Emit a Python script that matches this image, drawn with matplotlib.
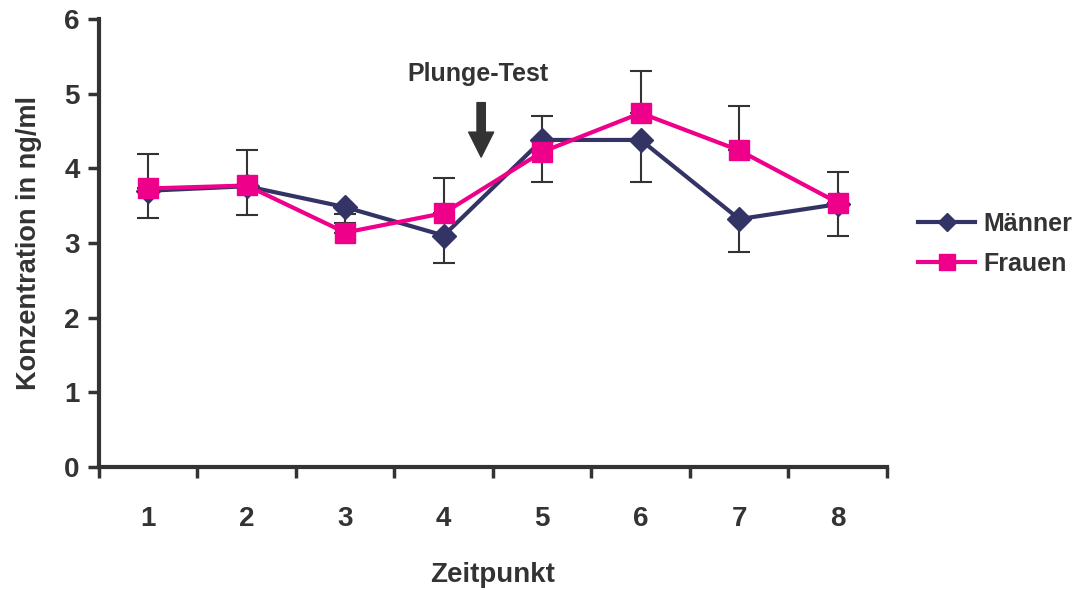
import matplotlib
matplotlib.use('Agg')
import matplotlib.pyplot as plt
import numpy as np

plt.rcParams['font.family'] = ['Liberation Sans', 'DejaVu Sans']
plt.rcParams['font.weight'] = 'bold'

zeitpunkt = [1, 2, 3, 4, 5, 6, 7, 8]
maenner = [3.70, 3.76, 3.48, 3.10, 4.38, 4.38, 3.32, 3.52]
frauen = [3.73, 3.77, 3.14, 3.40, 4.22, 4.74, 4.24, 3.54]
# Männer shows only the lower whisker, Frauen only the upper one
maenner_err_low = [0.36, 0.39, 0.21, 0.37, 0.56, 0.56, 0.44, 0.42]
frauen_err_up = [0.46, 0.48, 0.25, 0.47, 0.48, 0.57, 0.60, 0.41]

dark = '#333333'
navy = '#333366'
pink = '#EE008A'

fig = plt.figure(figsize=(10.85, 5.9), dpi=100)
ax = fig.add_axes([0.0912, 0.2085, 0.7263, 0.7593])

zero = [0] * len(zeitpunkt)
ax.errorbar(zeitpunkt, maenner, yerr=[maenner_err_low, zero], fmt='none',
            ecolor=dark, elinewidth=1.5, capsize=8, capthick=1.5, zorder=2)
ax.errorbar(zeitpunkt, frauen, yerr=[zero, frauen_err_up], fmt='none',
            ecolor=dark, elinewidth=1.5, capsize=8, capthick=1.5, zorder=2)

l1, = ax.plot(zeitpunkt, maenner, color=navy, lw=3, marker='D', ms=12.5,
              label='Männer', zorder=3)
l2, = ax.plot(zeitpunkt, frauen, color=pink, lw=3, marker='s', ms=14.5,
              label='Frauen', zorder=4)

ax.set_xlim(0.5, 8.5)
ax.set_ylim(0, 6)
ax.set_yticks(range(0, 7))
ax.set_xticks(zeitpunkt)
ax.set_xticks(np.arange(0.5, 9, 1), minor=True)
ax.tick_params(axis='x', which='major', length=0, pad=28, labelsize=20,
               colors=dark)
ax.tick_params(axis='x', which='minor', length=8, width=2.5, color=dark)
ax.tick_params(axis='y', length=8, width=2.5, color=dark, labelsize=20,
               labelcolor=dark, pad=6)

for s in ['top', 'right']:
    ax.spines[s].set_visible(False)
for s in ['left', 'bottom']:
    ax.spines[s].set_linewidth(3)
    ax.spines[s].set_color(dark)

ax.set_xlabel('Zeitpunkt', fontsize=20, fontweight='bold', color=dark,
              labelpad=22)
ax.set_ylabel('Konzentration in ng/ml', fontsize=19.5, fontweight='bold',
              color=dark, labelpad=16)

ax.annotate('', xy=(4.38, 4.15), xytext=(4.38, 4.88),
            arrowprops=dict(facecolor=dark, edgecolor=dark, width=6,
                            headwidth=18, headlength=18))
ax.text(4.35, 5.27, 'Plunge-Test', ha='center', va='center', fontsize=18,
        fontweight='bold', color=dark)

fig.legend(handles=[l1, l2], loc='center left',
           bbox_to_anchor=(0.846, 0.587), frameon=False, fontsize=18,
           handlelength=2.3, labelspacing=0.65, handletextpad=0.3,
           borderpad=0, borderaxespad=0,
           labelcolor=dark, markerscale=0.75)

fig.savefig('out.png', dpi=100)
